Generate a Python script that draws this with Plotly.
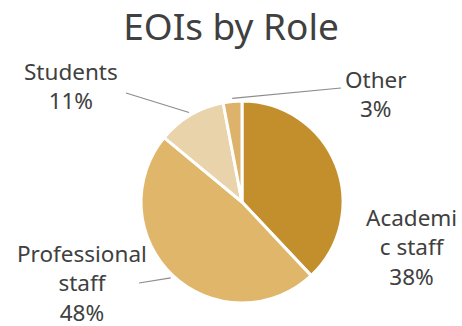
import math
import plotly.graph_objects as go

# Expressions of interest by role
roles = ["Academic staff", "Professional staff", "Students", "Other"]
shares = [38, 48, 11, 3]
label_text = ["Academi<br>c staff<br>38%", "Professional<br>staff<br>48%", "Students<br>11%", "Other<br>3%"]

colors = ["#C28F2C", "#E0B66A", "#E8D3AA", "#DDB26A"]

W, H = 462, 326
cx, cy, R = 242, 202, 101  # pie centre / radius in px

# label block centres and leader-line tails (px); None = no leader line
label_pos = [(411, 247), (82, 283), (71, 86), (376, 94)]
leader_tail = [None, (139, 283), (126, 93), (341, 88)]

def px_to_paper(x, y):
    return x / W, 1 - y / H

fig = go.Figure(go.Pie(
    labels=roles,
    values=shares,
    sort=False,
    direction="clockwise",
    rotation=0,
    marker=dict(colors=colors, line=dict(color="white", width=3)),
    textinfo="none",
    hoverinfo="label+percent",
    showlegend=False,
    domain=dict(x=[(cx - R) / W, (cx + R) / W], y=[1 - (cy + R) / H, 1 - (cy - R) / H]),
))

total = sum(shares)
annotations = []
shapes = []
cum = 0
for i, v in enumerate(shares):
    mid = (cum + v / 2) / total * 2 * math.pi
    cum += v
    lx, ly = label_pos[i]
    px_, py_ = px_to_paper(lx, ly)
    annotations.append(dict(
        x=px_, y=py_, xref="paper", yref="paper", text=label_text[i],
        showarrow=False, xanchor="center", yanchor="middle", align="center",
        font=dict(size=22.5, color="#404040", family="Noto Sans"),
    ))
    if leader_tail[i] is not None:
        hx = cx + R * 1.03 * math.sin(mid)
        hy = cy - R * 1.03 * math.cos(mid)
        tx, ty = leader_tail[i]
        x0, y0 = px_to_paper(tx, ty)
        x1, y1 = px_to_paper(hx, hy)
        shapes.append(dict(type="line", xref="paper", yref="paper",
                           x0=x0, y0=y0, x1=x1, y1=y1,
                           line=dict(color="#8C8C8C", width=1.2)))

fig.update_layout(
    width=W, height=H,
    margin=dict(l=0, r=0, t=0, b=0),
    paper_bgcolor="white", plot_bgcolor="white",
    title=dict(text="EOIs by Role", x=0.5, xanchor="center",
               y=1 - 27 / H, yanchor="middle",
               font=dict(size=37, color="#404040", family="Noto Sans")),
    annotations=annotations,
    shapes=shapes,
)

fig.write_html("out.html")
